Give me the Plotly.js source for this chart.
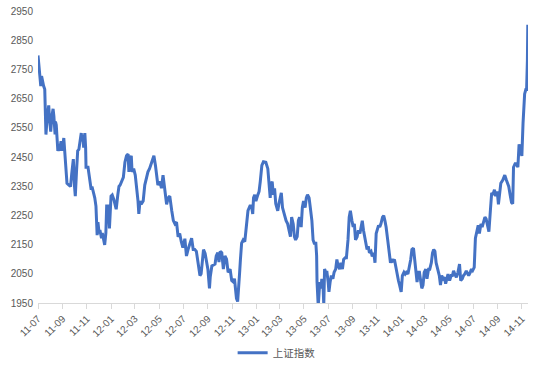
<!DOCTYPE html>
<html>
<head>
<meta charset="utf-8">
<script src="https://cdn.plot.ly/plotly-3.0.1.min.js"></script>
<style>html,body{margin:0;padding:0;background:#fff;}#chart{width:550px;height:378px;}</style>
</head>
<body>
<div id="chart"></div>
<script>
const seriesName = "上证指数";
const dates = [
"2011-07-01","2011-07-03","2011-07-06","2011-07-08","2011-07-10","2011-07-13","2011-07-15","2011-07-18","2011-07-19","2011-07-21",
"2011-07-24","2011-07-28","2011-07-30","2011-08-02","2011-08-05","2011-08-08","2011-08-10","2011-08-13","2011-08-14","2011-08-16",
"2011-08-18","2011-08-20","2011-08-22","2011-08-24","2011-08-28","2011-08-31","2011-09-04","2011-09-06","2011-09-09","2011-09-12",
"2011-09-17","2011-09-21","2011-09-24","2011-09-26","2011-09-28","2011-10-01","2011-10-03","2011-10-06","2011-10-09","2011-10-12",
"2011-10-15","2011-10-18","2011-10-20","2011-10-22","2011-10-24","2011-10-27","2011-10-29","2011-10-30","2011-11-04","2011-11-06",
"2011-11-09","2011-11-12","2011-11-14","2011-11-18","2011-11-21","2011-11-24","2011-11-27","2011-11-29","2011-12-02","2011-12-04",
"2011-12-08","2011-12-10","2011-12-13","2011-12-16","2011-12-19","2011-12-21","2011-12-25","2011-12-28","2012-01-01","2012-01-04",
"2012-01-08","2012-01-11","2012-01-14","2012-01-18","2012-01-21","2012-01-24","2012-01-28","2012-02-01","2012-02-05","2012-02-09",
"2012-02-13","2012-02-15","2012-02-18","2012-02-21","2012-02-23","2012-02-27","2012-03-02","2012-03-05","2012-03-09","2012-03-11",
"2012-03-14","2012-03-17","2012-03-22","2012-03-26","2012-03-30","2012-04-03","2012-04-07","2012-04-12","2012-04-16","2012-04-18",
"2012-04-22","2012-04-25","2012-04-28","2012-05-03","2012-05-07","2012-05-11","2012-05-15","2012-05-20","2012-05-24","2012-05-28",
"2012-06-02","2012-06-06","2012-06-10","2012-06-14","2012-06-18","2012-06-22","2012-06-26","2012-06-30","2012-07-05","2012-07-09",
"2012-07-13","2012-07-17","2012-07-22","2012-07-26","2012-07-30","2012-08-03","2012-08-08","2012-08-12","2012-08-15","2012-08-19",
"2012-08-21","2012-08-25","2012-08-28","2012-09-01","2012-09-05","2012-09-07","2012-09-11","2012-09-15","2012-09-19","2012-09-22",
"2012-09-26","2012-09-29","2012-10-02","2012-10-06","2012-10-10","2012-10-14","2012-10-18","2012-10-22","2012-10-27","2012-10-31",
"2012-11-04","2012-11-07","2012-11-09","2012-11-12","2012-11-15","2012-11-18","2012-11-20","2012-11-22","2012-11-25","2012-11-29",
"2012-12-03","2012-12-06","2012-12-09","2012-12-11","2012-12-16","2012-12-20","2012-12-23","2012-12-25","2012-12-28","2012-12-31",
"2013-01-05","2013-01-08","2013-01-11","2013-01-15","2013-01-19","2013-01-25","2013-01-30","2013-02-03","2013-02-05","2013-02-07",
"2013-02-10","2013-02-13","2013-02-16","2013-02-19","2013-02-24","2013-02-27","2013-03-02","2013-03-05","2013-03-08","2013-03-12",
"2013-03-15","2013-03-17","2013-03-21","2013-03-25","2013-03-28","2013-03-31","2013-04-04","2013-04-07","2013-04-10","2013-04-14",
"2013-04-17","2013-04-20","2013-04-24","2013-04-27","2013-04-30","2013-05-04","2013-05-07","2013-05-10","2013-05-14","2013-05-17",
"2013-05-21","2013-05-24","2013-05-27","2013-05-31","2013-06-02","2013-06-03","2013-06-06","2013-06-10","2013-06-13","2013-06-15",
"2013-06-18","2013-06-20","2013-06-22","2013-06-25","2013-06-28","2013-07-01","2013-07-03","2013-07-06","2013-07-09","2013-07-13",
"2013-07-16","2013-07-20","2013-07-23","2013-07-26","2013-07-30","2013-08-02","2013-08-06","2013-08-09","2013-08-13","2013-08-16",
"2013-08-20","2013-08-23","2013-08-26","2013-08-30","2013-09-02","2013-09-05","2013-09-08","2013-09-12","2013-09-15","2013-09-19",
"2013-09-22","2013-09-25","2013-09-28","2013-10-03","2013-10-07","2013-10-10","2013-10-13","2013-10-17","2013-10-20","2013-10-24",
"2013-10-27","2013-10-30","2013-11-02","2013-11-05","2013-11-08","2013-11-11","2013-11-15","2013-11-18","2013-11-21","2013-11-24",
"2013-11-28","2013-12-01","2013-12-05","2013-12-08","2013-12-11","2013-12-15","2013-12-18","2013-12-21","2013-12-25","2013-12-28",
"2014-01-01","2014-01-04","2014-01-08","2014-01-11","2014-01-14","2014-01-18","2014-01-21","2014-01-25","2014-01-28","2014-02-01",
"2014-02-04","2014-02-07","2014-02-10","2014-02-13","2014-02-16","2014-02-19","2014-02-22","2014-02-25","2014-02-28","2014-03-04",
"2014-03-07","2014-03-11","2014-03-14","2014-03-18","2014-03-21","2014-03-24","2014-03-27","2014-03-30","2014-04-03","2014-04-07",
"2014-04-10","2014-04-13","2014-04-17","2014-04-20","2014-04-23","2014-04-26","2014-04-29","2014-05-03","2014-05-07","2014-05-10",
"2014-05-13","2014-05-16","2014-05-20","2014-05-24","2014-05-28","2014-05-31","2014-06-04","2014-06-07","2014-06-10","2014-06-14",
"2014-06-17","2014-06-20","2014-06-24","2014-06-27","2014-06-30","2014-07-04","2014-07-07","2014-07-10","2014-07-14","2014-07-17",
"2014-07-21","2014-07-24","2014-07-27","2014-07-31","2014-08-03","2014-08-07","2014-08-10","2014-08-14","2014-08-17","2014-08-20",
"2014-08-24","2014-08-27","2014-08-31","2014-09-03","2014-09-06","2014-09-09","2014-09-14","2014-09-19","2014-09-23","2014-09-26",
"2014-09-29","2014-10-03","2014-10-06","2014-10-09","2014-10-11","2014-10-15","2014-10-18","2014-10-22","2014-10-25","2014-10-29",
"2014-11-01","2014-11-04","2014-11-08","2014-11-11","2014-11-13","2014-11-15","2014-11-16"
];
const indexValues = [
2798,2770,2720,2693,2727,2704,2694,2682,2627,2527,
2582,2627,2582,2537,2590,2615,2590,2527,2571,2560,
2515,2471,2482,2471,2504,2471,2515,2471,2415,2360,
2354,2349,2393,2438,2443,2349,2316,2400,2471,2476,
2515,2532,2504,2526,2482,2532,2482,2415,2415,2393,
2365,2338,2349,2327,2310,2282,2182,2227,2188,2200,
2172,2190,2160,2149,2190,2282,2282,2205,2316,2320,
2305,2290,2271,2320,2349,2354,2366,2380,2432,2454,
2460,2399,2443,2454,2399,2410,2388,2354,2299,2255,
2299,2288,2299,2354,2377,2399,2410,2432,2449,2454,
2420,2388,2354,2366,2343,2388,2343,2288,2310,2316,
2266,2232,2221,2227,2177,2188,2160,2140,2170,2111,
2133,2155,2172,2133,2133,2127,2077,2044,2050,2122,
2133,2120,2090,2066,2000,2040,2077,2080,2083,2111,
2122,2090,2127,2122,2066,2111,2100,2055,2066,2027,
2022,2033,2000,1966,1955,2000,2055,2099,2155,2166,
2160,2200,2232,2266,2282,2282,2255,2310,2321,2299,
2321,2332,2366,2421,2434,2432,2410,2343,2310,2355,
2366,2320,2343,2290,2266,2290,2310,2327,2277,2255,
2240,2232,2221,2199,2177,2244,2221,2177,2166,2177,
2232,2244,2210,2277,2299,2277,2310,2321,2310,2277,
2232,2166,2155,2155,2111,2022,1940,2022,2000,2033,
2011,1945,2066,2055,2055,2022,1988,2022,2044,2033,
2055,2066,2099,2077,2066,2088,2066,2099,2105,2105,
2166,2244,2266,2232,2210,2221,2166,2177,2199,2188,
2210,2232,2199,2155,2133,2144,2122,2127,2110,2122,
2088,2188,2199,2216,2210,2221,2244,2249,2232,2210,
2166,2122,2088,2099,2094,2099,2077,2044,2027,2011,
1988,2044,2055,2049,2055,2049,2066,2099,2133,2138,
2099,2044,2022,2055,2055,2027,2000,2011,2055,2066,
2033,2066,2066,2088,2122,2133,2127,2088,2066,2044,
2011,2044,2033,2038,2016,2038,2049,2027,2044,2044,
2060,2049,2038,2055,2083,2027,2033,2044,2049,2060,
2049,2044,2055,2066,2061,2072,2172,2194,2216,2188,
2221,2210,2227,2244,2238,2216,2194,2272,2327,2321,
2338,2316,2332,2288,2338,2360,2371,2388,2371,2355,
2349,2316,2294,2290,2415,2427,2427,2415,2493,2470,
2454,2566,2666,2681,2681,2780,2903
];
const yTicks = [1950,2050,2150,2250,2350,2450,2550,2650,2750,2850,2950];

const trace = {
  x: dates, y: indexValues, type: 'scatter', mode: 'lines', name: seriesName,
  line: {color: '#4472C4', width: 3}
};
const layout = {
  width: 550, height: 378,
  margin: {l: 38, r: 22, t: 11, b: 67},
  paper_bgcolor: '#ffffff', plot_bgcolor: '#ffffff',
  font: {family: 'Liberation Sans, "Noto Sans CJK SC", sans-serif', size: 10, color: '#595959'},
  showlegend: true,
  legend: {orientation: 'h', x: 0.487, xanchor: 'center', y: -0.17, yanchor: 'middle',
           font: {family: '"Noto Sans CJK SC", sans-serif', size: 10.5, color: '#595959'}},
  xaxis: {
    type: 'date', range: ['2011-07-01', '2014-11-16 12:00'],
    tick0: '2011-07-01', dtick: 'M2', tickformat: '%y-%m', tickangle: -45,
    showgrid: false, zeroline: false, showline: true, linecolor: '#d9d9d9', linewidth: 1,
    ticks: 'outside', ticklen: 5, tickcolor: '#d9d9d9',
    tickfont: {size: 10, color: '#595959'}, fixedrange: true
  },
  yaxis: {
    range: [1950, 2950], tickmode: 'array', tickvals: yTicks,
    showgrid: false, zeroline: false, showline: false, ticks: '',
    ticklabelstandoff: 4,
    tickfont: {size: 10, color: '#595959'}, fixedrange: true
  }
};
Plotly.newPlot('chart', [trace], layout, {displayModeBar: false, staticPlot: true});
</script>
</body>
</html>
